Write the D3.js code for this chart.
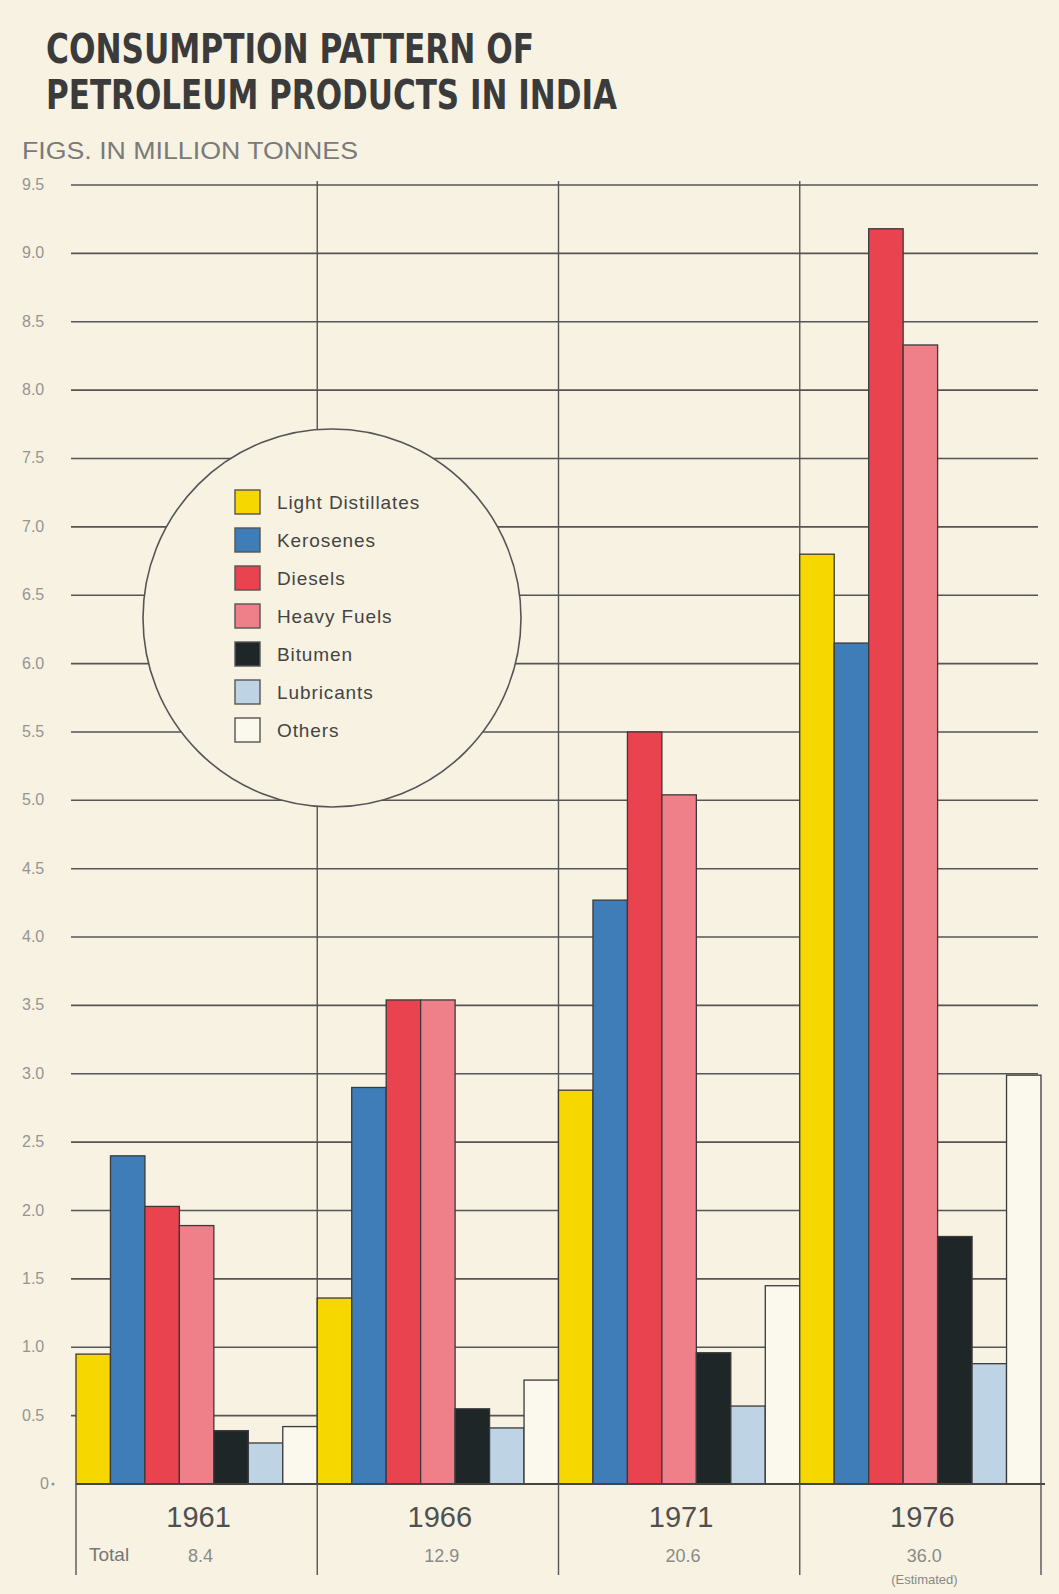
<!DOCTYPE html>
<html>
<head>
<meta charset="utf-8">
<script src="https://cdn.jsdelivr.net/npm/d3@7"></script>
<style>
  html, body { margin: 0; padding: 0; background: #f7f2e2; }
  svg { display: block; }
</style>
</head>
<body>
<svg id="chart" width="1059" height="1594"></svg>
<script>
// ---------------- DATA ----------------
const years = ["1961", "1966", "1971", "1976"];
const totals = ["8.4", "12.9", "20.6", "36.0"];
const seriesNames = ["Light Distillates", "Kerosenes", "Diesels", "Heavy Fuels", "Bitumen", "Lubricants", "Others"];
const lightDistillates = [0.95, 1.36, 2.88, 6.80];
const kerosenes        = [2.40, 2.90, 4.27, 6.15];
const diesels          = [2.03, 3.54, 5.50, 9.18];
const heavyFuels       = [1.89, 3.54, 5.04, 8.33];
const bitumen          = [0.39, 0.55, 0.96, 1.81];
const lubricants       = [0.30, 0.41, 0.57, 0.88];
const others           = [0.42, 0.76, 1.45, 2.99];
const yTicks = [0, 0.5, 1, 1.5, 2, 2.5, 3, 3.5, 4, 4.5, 5, 5.5, 6, 6.5, 7, 7.5, 8, 8.5, 9, 9.5];
const yTickLabels = ["0", "0.5", "1.0", "1.5", "2.0", "2.5", "3.0", "3.5", "4.0", "4.5", "5.0", "5.5", "6.0", "6.5", "7.0", "7.5", "8.0", "8.5", "9.0", "9.5"];

const seriesValues = [lightDistillates, kerosenes, diesels, heavyFuels, bitumen, lubricants, others];
const colors = ["#f6d700", "#3f7db8", "#e9434f", "#ef8089", "#1f2628", "#bed3e4", "#fbf8ee"];

// ---------------- LAYOUT ----------------
const svg = d3.select("#chart");
const bg = "#f7f2e2";
const plotLeft = 76, plotRight = 1041, plotTop = 185, plotBase = 1484;

const x0 = d3.scaleBand().domain(years).range([plotLeft, plotRight]).paddingInner(0).paddingOuter(0);
const x1 = d3.scaleBand().domain(seriesNames).range([0, x0.bandwidth()]).padding(0);
const y = d3.scaleLinear().domain([0, 9.5]).range([plotBase, plotTop]);

svg.append("rect").attr("width", 1059).attr("height", 1594).attr("fill", bg);

// Title
const title = svg.append("g").attr("fill", "#3b3b3b")
  .attr("font-family", "'Liberation Sans Narrow', 'DejaVu Sans Condensed', 'Liberation Sans', sans-serif")
  .attr("font-weight", "bold").attr("font-size", 41);
title.append("text").attr("x", 46).attr("y", 63).attr("textLength", 488).attr("lengthAdjust", "spacingAndGlyphs")
  .text("CONSUMPTION PATTERN OF");
title.append("text").attr("x", 46).attr("y", 109).attr("textLength", 571).attr("lengthAdjust", "spacingAndGlyphs")
  .text("PETROLEUM PRODUCTS IN INDIA");

svg.append("text").attr("x", 22).attr("y", 159)
  .attr("font-family", "'Liberation Sans', Arial, sans-serif").attr("font-size", 23)
  .attr("fill", "#7a7a7a").attr("textLength", 336).attr("lengthAdjust", "spacingAndGlyphs")
  .text("FIGS. IN MILLION TONNES");

// Horizontal grid lines
const grid = svg.append("g");
grid.selectAll("line.h").data(yTicks.filter(d => d > 0)).join("line").attr("class", "h")
  .attr("x1", 71).attr("x2", 1038)
  .attr("y1", d => y(d)).attr("y2", d => y(d))
  .attr("stroke", "#555").attr("stroke-width", 1.6);

// Vertical dividers between year groups (upper)
grid.selectAll("line.v").data(years.slice(1)).join("line").attr("class", "v")
  .attr("x1", d => x0(d)).attr("x2", d => x0(d))
  .attr("y1", plotTop - 4).attr("y2", plotBase)
  .attr("stroke", "#555").attr("stroke-width", 1.4);

// Y tick labels
const yl = svg.append("g").attr("font-family", "'Liberation Sans Narrow', 'Liberation Sans', sans-serif")
  .attr("font-size", 16).attr("fill", "#959595");
yl.selectAll("text").data(yTicks).join("text")
  .attr("x", (d, i) => i === 0 ? 40 : 22).attr("y", d => y(d) + 5)
  .text((d, i) => yTickLabels[i]);
yl.append("circle").attr("cx", 53).attr("cy", y(0)).attr("r", 1.6).attr("fill", "#959595");

// Legend circle (covers grid)
const cx = 332, cy = 618, r = 189;
svg.append("circle").attr("cx", cx).attr("cy", cy).attr("r", r)
  .attr("fill", bg).attr("stroke", "#555").attr("stroke-width", 1.6);

const legend = svg.append("g");
const lg = legend.selectAll("g").data(seriesNames).join("g")
  .attr("transform", (d, i) => `translate(235, ${490 + i * 38})`);
lg.append("rect").attr("width", 25).attr("height", 24)
  .attr("fill", (d, i) => colors[i]).attr("stroke", "#555").attr("stroke-width", 1.4);
lg.append("text").attr("x", 42).attr("y", 19)
  .attr("font-family", "'Liberation Sans', Arial, sans-serif").attr("font-size", 19)
  .attr("letter-spacing", 0.9).attr("fill", "#444").text(d => d);

// Bars
const groups = svg.append("g").selectAll("g").data(years).join("g")
  .attr("transform", d => `translate(${x0(d)},0)`);
groups.selectAll("rect").data((yr, yi) => seriesNames.map((s, si) => ({ s, si, v: seriesValues[si][yi] })))
  .join("rect")
  .attr("x", d => x1(d.s)).attr("width", x1.bandwidth())
  .attr("y", d => y(d.v)).attr("height", d => plotBase - y(d.v))
  .attr("fill", d => colors[d.si]).attr("stroke", "#3a3a3a").attr("stroke-width", 1.3);

// Baseline
svg.append("line").attr("x1", plotLeft).attr("x2", plotRight + 4).attr("y1", plotBase).attr("y2", plotBase)
  .attr("stroke", "#444").attr("stroke-width", 1.8);

// Lower vertical dividers
const lowerX = years.map(d => x0(d)).concat([plotRight]);
svg.append("g").selectAll("line").data(lowerX).join("line")
  .attr("x1", d => d).attr("x2", d => d).attr("y1", plotBase).attr("y2", 1575)
  .attr("stroke", "#555").attr("stroke-width", 1.4);

// Year labels and totals
const xl = svg.append("g");
xl.selectAll("text.year").data(years).join("text").attr("class", "year")
  .attr("x", d => x0(d) + x0.bandwidth() / 2 + 2).attr("y", 1527)
  .attr("text-anchor", "middle")
  .attr("font-family", "'Liberation Sans Narrow', 'Liberation Sans', sans-serif").attr("font-size", 29)
  .attr("fill", "#505050").text(d => d);
xl.selectAll("text.total").data(totals).join("text").attr("class", "total")
  .attr("x", (d, i) => x0(years[i]) + x0.bandwidth() / 2 + 4).attr("y", 1562)
  .attr("text-anchor", "middle")
  .attr("font-family", "'Liberation Sans Narrow', 'Liberation Sans', sans-serif").attr("font-size", 18)
  .attr("fill", "#8a8a8a").text(d => d);
xl.append("text").attr("x", 89).attr("y", 1561)
  .attr("font-family", "'Liberation Sans Narrow', 'Liberation Sans', sans-serif").attr("font-size", 19)
  .attr("fill", "#777").text("Total");
xl.append("text").attr("x", x0("1976") + x0.bandwidth() / 2 + 4).attr("y", 1584)
  .attr("text-anchor", "middle")
  .attr("font-family", "'Liberation Sans Narrow', 'Liberation Sans', sans-serif").attr("font-size", 13)
  .attr("fill", "#888").text("(Estimated)");
</script>
</body>
</html>
